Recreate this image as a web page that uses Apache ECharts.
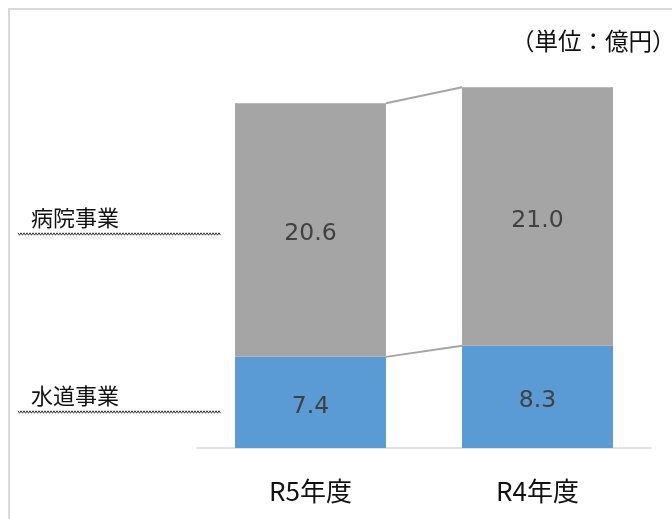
<!DOCTYPE html>
<html><head><meta charset="utf-8">
<script src="https://cdn.jsdelivr.net/npm/echarts@6/dist/echarts.min.js"></script>
<style>html,body{margin:0;padding:0;background:#fff}#c{width:672px;height:519px}</style>
</head><body><div id="c"></div>
<script>
const categories = ['R5年度', 'R4年度'];
const seriesNames = ['水道事業', '病院事業'];
const waterValues = [7.4, 8.3];
const hospitalValues = [20.6, 21.0];
const unitLabel = '（単位：億円）';

const BAR_FRAC = 0.665;
const cjk = '"Noto Sans CJK JP", "Noto Sans", sans-serif';

// connector (series lines) data built from the arrays
const connectors = [];
for (let i = 0; i < categories.length - 1; i++) {
  connectors.push([i, waterValues[i], i + 1, waterValues[i + 1]]);
  connectors.push([i, waterValues[i] + hospitalValues[i], i + 1, waterValues[i + 1] + hospitalValues[i + 1]]);
}

function wavy(x0, x1, y) {
  const pts = [];
  let up = true;
  for (let x = x0; x <= x1; x += 1.5) { pts.push([x, up ? y - 1.2 : y + 1.2]); up = !up; }
  return { type: 'polyline', shape: { points: pts }, style: { stroke: '#333', lineWidth: 1, fill: null }, silent: true };
}

const chart = echarts.init(document.getElementById('c'));
const valueLabel = {
  show: true, position: 'inside', fontSize: 23.5, color: '#404040', offset: [0, 4],
  fontFamily: '"DejaVu Sans", Verdana, sans-serif',
  formatter: p => Number(p.value).toFixed(1)
};
chart.setOption({
  animation: false,
  backgroundColor: '#fff',
  grid: { left: 197, right: 21, top: 17, bottom: 71 },
  xAxis: {
    type: 'category', data: categories,
    axisLine: { lineStyle: { color: '#d9d9d9', width: 1.5 } },
    axisTick: { show: false },
    axisLabel: { fontSize: 26, color: '#111', fontFamily: cjk, margin: 30 }
  },
  yAxis: { type: 'value', min: 0, max: 35, show: false, splitLine: { show: false } },
  series: [
    { name: seriesNames[0], type: 'bar', stack: 't', data: waterValues, barWidth: (BAR_FRAC * 100) + '%',
      itemStyle: { color: '#5b9bd5' }, label: valueLabel },
    { name: seriesNames[1], type: 'bar', stack: 't', data: hospitalValues, barWidth: (BAR_FRAC * 100) + '%',
      itemStyle: { color: '#a5a5a5' }, label: valueLabel },
    { type: 'custom', data: connectors, encode: { x: 0, y: 1 }, z: 5,
      renderItem: function (params, api) {
        const p1 = api.coord([api.value(0), api.value(1)]);
        const p2 = api.coord([api.value(2), api.value(3)]);
        const hw = api.size([1, 0])[0] * BAR_FRAC / 2;
        return { type: 'line', shape: { x1: p1[0] + hw, y1: p1[1], x2: p2[0] - hw, y2: p2[1] },
          style: { stroke: '#a5a5a5', lineWidth: 2 } };
      } }
  ],
  graphic: [
    { type: 'rect', shape: { x: 9, y: 9, width: 800, height: 700 }, style: { stroke: '#d9d9d9', lineWidth: 2, fill: null }, silent: true },
    { type: 'text', left: 511, top: 29, style: { text: unitLabel, fontSize: 23.5, fill: '#111', fontFamily: cjk } },
    { type: 'text', left: 31, top: 207, style: { text: seriesNames[1], fontSize: 22, fill: '#111', fontFamily: cjk } },
    wavy(18, 221, 234),
    { type: 'text', left: 31, top: 385, style: { text: seriesNames[0], fontSize: 22, fill: '#111', fontFamily: cjk } },
    wavy(18, 221, 412)
  ]
});
</script>
</body></html>
